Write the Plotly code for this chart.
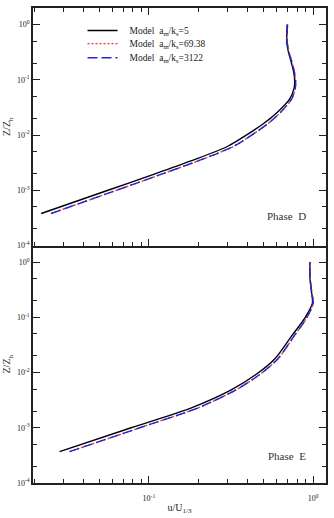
import plotly.graph_objects as go
from plotly.subplots import make_subplots
import math

# ---------------- data ----------------
# Phase D (top panel)
z_D = [3.8e-4, 1e-3, 2e-3, 3.4e-3, 6.2e-3, 0.0155, 0.027, 0.045, 0.07, 0.095, 0.14, 0.21, 0.33, 0.5, 1.0]
u_D_5 = [0.0221, 0.0564, 0.110, 0.180, 0.300, 0.490, 0.615, 0.720, 0.765, 0.772, 0.760, 0.735, 0.705, 0.690, 0.695]
u_D_69 = [0.0254, 0.0635, 0.122, 0.199, 0.327, 0.522, 0.643, 0.740, 0.778, 0.782, 0.768, 0.742, 0.710, 0.694, 0.698]
u_D_3122 = [0.0254, 0.0635, 0.122, 0.199, 0.327, 0.522, 0.643, 0.740, 0.778, 0.782, 0.768, 0.742, 0.710, 0.694, 0.698]

# Phase E (bottom panel)
z_E = [3.7e-4, 1e-3, 2.3e-3, 4.8e-3, 9.1e-3, 0.018, 0.046, 0.0975, 0.18, 0.3, 0.53, 1.0]
u_E_5 = [0.0286, 0.078, 0.1815, 0.315, 0.446, 0.587, 0.740, 0.891, 0.990, 0.975, 0.955, 0.955]
u_E_69 = [0.0329, 0.088, 0.200, 0.337, 0.471, 0.613, 0.766, 0.913, 1.000, 0.978, 0.957, 0.957]
u_E_3122 = [0.0329, 0.088, 0.200, 0.337, 0.471, 0.613, 0.766, 0.913, 1.000, 0.978, 0.957, 0.957]

series_names = ["Model  a<sub>m</sub>/k<sub>s</sub>=5",
                "Model  a<sub>m</sub>/k<sub>s</sub>=69.38",
                "Model  a<sub>m</sub>/k<sub>s</sub>=3122"]
phase_labels = ["Phase  D", "Phase  E"]

y_tickvals = [1e-4, 1e-3, 1e-2, 1e-1, 1]
y_ticktext = ["10<sup>-4</sup>", "10<sup>-3</sup>", "10<sup>-2</sup>", "10<sup>-1</sup>", "10<sup>0</sup>"]
y_minorvals = [2e-4, 5e-4, 2e-3, 5e-3, 2e-2, 5e-2, 0.2, 0.5]
x_tickvals = [0.1, 1]
x_ticktext = ["10<sup>-1</sup>", "10<sup>0</sup>"]
x_minorvals = [0.02, 0.03, 0.04, 0.05, 0.06, 0.07, 0.08, 0.09, 0.2, 0.3, 0.4, 0.5, 0.6, 0.7, 0.8, 0.9]

# ---------------- figure ----------------
FONT = "Liberation Serif"
H, W = 518, 334
ML, MR, MT, MB = 32, 6, 7, 24
PH = H - MT - MB
LW = 1.5
PAD = "\u00a0\u00a0\u00a0"  # visual gap between legend sample and its label

fig = make_subplots(rows=2, cols=1, vertical_spacing=0.0)

styles = [dict(color="black", width=1.4, dash="solid", shape="spline", smoothing=0.7),
          dict(color="#e8383a", width=1.4, dash="2px,2px", shape="spline", smoothing=0.7),
          dict(color="#2424d8", width=1.4, dash="10px,4px", shape="spline", smoothing=0.7)]
legend_ids = ["legend", "legend2", "legend3"]

panels = [(z_D, [u_D_5, u_D_69, u_D_3122]), (z_E, [u_E_5, u_E_69, u_E_3122])]
for r, (zz, us) in enumerate(panels, start=1):
    for i, uu in enumerate(us):
        fig.add_trace(go.Scatter(x=uu, y=zz, mode="lines", line=styles[i],
                                 name=PAD + series_names[i], showlegend=(r == 1),
                                 legend=legend_ids[i]),
                      row=r, col=1)

xr = [math.log10(0.0197), math.log10(1.197)]
yr = [-4, 0.3]
axis_common = dict(type="log", showline=True, linecolor="#222", linewidth=LW,
                   ticks="inside", ticklen=7, tickwidth=1.2,
                   tickcolor="#222", showgrid=False, zeroline=False,
                   tickfont=dict(family=FONT, size=8, color="#222"))
minor_common = dict(ticks="inside", ticklen=4, tickwidth=1, tickcolor="#222",
                    tickmode="array", showgrid=False)

fig.update_xaxes(range=xr, tickmode="array", tickvals=x_tickvals, ticktext=x_ticktext,
                 showticklabels=False, mirror="ticks",
                 minor=dict(tickvals=x_minorvals, **minor_common),
                 row=1, col=1, **axis_common)
fig.update_xaxes(range=xr, tickmode="array", tickvals=x_tickvals, ticktext=x_ticktext,
                 showticklabels=True, mirror=False, ticklabelstandoff=7,
                 minor=dict(tickvals=x_minorvals, **minor_common),
                 title=dict(text="u/U<sub>1/3</sub>", font=dict(family=FONT, size=10, color="#222"),
                            standoff=2),
                 row=2, col=1, **axis_common)
for r in (1, 2):
    fig.update_yaxes(range=yr, tickmode="array", tickvals=y_tickvals,
                     ticktext=y_ticktext, mirror="ticks",
                     minor=dict(tickvals=y_minorvals, **minor_common),
                     title=dict(text="Z/Z<sub>h</sub>", font=dict(family=FONT, size=10, color="#222"),
                                standoff=4),
                     row=r, col=1, **axis_common)

# ticks only (no second line) along the top edge of the lower panel
fig.update_layout(xaxis3=dict(overlaying="x2", anchor="y2", side="top", type="log",
                              range=xr, showline=False, showgrid=False, zeroline=False,
                              ticks="inside", ticklen=7, tickwidth=1.2, tickcolor="#222",
                              tickmode="array", tickvals=x_tickvals, showticklabels=False,
                              minor=dict(tickvals=x_minorvals, **minor_common)))

fig.add_annotation(text=phase_labels[0], xref="x domain", yref="y domain",
                   x=0.94, y=0.125, xanchor="right", yanchor="middle", showarrow=False,
                   font=dict(family=FONT, size=11, color="#333"))
fig.add_annotation(text=phase_labels[1], xref="x2 domain", yref="y2 domain",
                   x=0.94, y=0.115, xanchor="right", yanchor="middle", showarrow=False,
                   font=dict(family=FONT, size=11, color="#333"))

def py(px_from_top):
    return (H - MB - px_from_top) / PH

leg_common = dict(x=(82 - ML) / (W - ML - MR), xanchor="left", yanchor="middle",
                  bgcolor="rgba(0,0,0,0)", font=dict(family=FONT, size=9.5, color="#222"),
                  itemwidth=30, tracegroupgap=0)
fig.update_layout(
    width=W, height=H,
    margin=dict(l=ML, r=MR, t=MT, b=MB),
    paper_bgcolor="white", plot_bgcolor="white",
    legend=dict(y=py(30), **leg_common),
    legend2=dict(y=py(43.5), **leg_common),
    legend3=dict(y=py(58), **leg_common),
)

fig.write_html("out.html")
